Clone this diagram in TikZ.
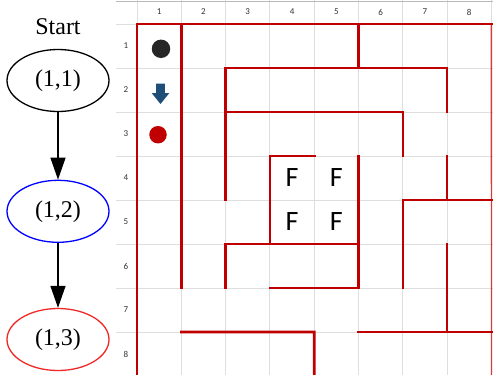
\documentclass[tikz,border=0pt]{standalone}
\usepackage{fontspec}
\setmainfont{Liberation Serif}
\newfontfamily\calib{Carlito}
\usetikzlibrary{shapes.geometric,arrows.meta}
\definecolor{wallred}{RGB}{192,0,0}
\definecolor{thinred}{RGB}{210,60,60}
\definecolor{gridgray}{RGB}{222,222,222}
\definecolor{hdrgray}{RGB}{185,185,185}
\definecolor{arrblue}{RGB}{31,78,121}
\definecolor{dotblack}{RGB}{38,38,38}
\definecolor{labgray}{RGB}{50,50,50}
\definecolor{ellred}{RGB}{240,40,40}
\begin{document}
\begin{tikzpicture}[x=1pt,y=-1pt,
  gridline/.style={draw=gridgray,line width=0.9pt},
  hdrline/.style={draw=hdrgray,line width=1pt},
  wall/.style={draw=wallred,line width=2.6pt,line cap=rect,line join=miter},
  thinwall/.style={draw=thinred,line width=1.4pt},
  hdr/.style={font=\calib\fontsize{9}{10}\selectfont,text=labgray,inner sep=0pt},
  fcell/.style={font=\calib\fontsize{28}{30}\selectfont,text=black,inner sep=0pt},
  ell/.style={ellipse,line width=1.3pt,minimum width=102pt,minimum height=62pt,inner sep=0pt,font=\fontsize{24}{26}\selectfont},
  edge/.style={draw=black,line width=1.3pt,-{Triangle[length=22pt,width=15pt]}},
  dot/.style={circle,inner sep=0pt}]
\useasboundingbox (0,0) rectangle (493,375);
\fill[white] (0,0) rectangle (493,375);
% grid
\foreach \i in {0,...,8} \draw[gridline] ({137+44.3*\i},0) -- ({137+44.3*\i},375);
\foreach \j in {0,...,8} \draw[gridline] (116,{24+44*\j}) -- (493,{24+44*\j});
\draw[hdrline] (116,1) -- (493,1);
% grid coordinates
\foreach \i in {0,...,8} \foreach \j in {0,...,8} \coordinate (g\i\j) at ({137+44.3*\i},{24+44*\j});
% column labels
\foreach \i in {1,...,8} \node[hdr] (col\i) at ({137+44.3*(\i-0.5)},12) {\i};
% row labels
\foreach \j in {1,...,8} \node[hdr] (row\j) at (126,{24+44*(\j-0.5)}) {\j};
% walls
\draw[thinwall] (g80) -- (491.5,375);
\draw[wall] (g00) -- (g80);
\draw[wall] (g00) -- (137,375);
\draw[wall] (g10) -- (g16);
\draw[wall] (g50) -- (g51);
\draw[wall] (g24) -- (g21) -- (g71) -- (g72);
\draw[wall] (g22) -- (g62) -- (g63);
\draw[wall] (g43) -- (g33) -- (g35);
\draw[wall] (g26) -- (g25) -- (g55);
\draw[wall] (g53) -- (g56) -- (g36);
\draw[wall] (g66) -- (g64) -- (g84);
\draw[wall] (g73) -- (g74);
\draw[wall] (g75) -- (g77);
\draw[wall] (g57) -- (g87);
\draw[wall] (g17) -- (g47) -- (314.2,375);
% F cells
\node[fcell] (f44) at (292.0,178) {F};
\node[fcell] (f54) at (336.4,178) {F};
\node[fcell] (f45) at (292.0,222) {F};
\node[fcell] (f55) at (336.4,222) {F};
% markers
\node[dot,fill=dotblack,minimum size=18.5pt] (mstart) at (161,48.8) {};
\fill[arrblue] (156.2,83.5) -- (164.8,83.5) -- (164.8,93) -- (169.3,93) -- (160.5,104) -- (151.7,93) -- (156.2,93) -- cycle;
\node[dot,fill=wallred,minimum size=17.5pt] (mgoal) at (158,134.7) {};
% graph
\node[font=\fontsize{24}{26}\selectfont,inner sep=0pt] (start) at (58,27) {Start};
\node[ell,draw=black] (n1) at (58,80.5) {(1,1)};
\node[ell,draw=blue] (n2) at (58,211.3) {(1,2)};
\node[ell,draw=ellred] (n3) at (58,339.5) {(1,3)};
\draw[edge] (n1) -- (n2);
\draw[edge] (n2) -- (n3);
\end{tikzpicture}
\end{document}
